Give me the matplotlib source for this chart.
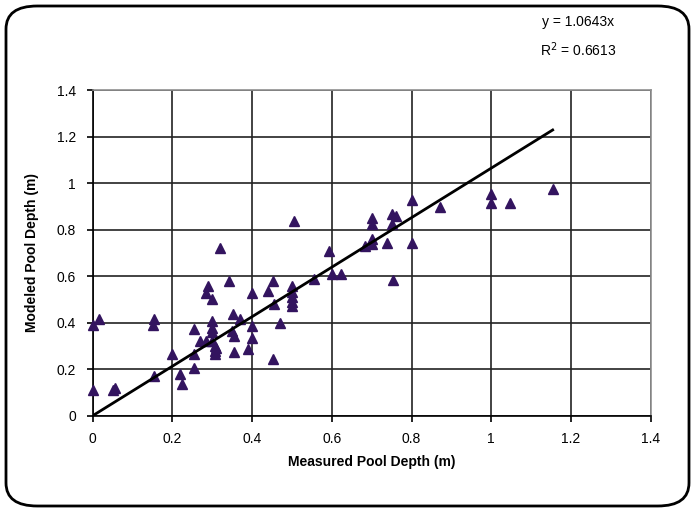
import matplotlib.pyplot as plt
import numpy as np
from matplotlib.patches import FancyBboxPatch

plt.rcParams['font.family'] = ['Liberation Sans', 'DejaVu Sans']

# measured vs modeled pool depth (m)
measured = [0.0, 0.0, 0.015, 0.05, 0.055, 0.15, 0.155, 0.153, 0.2, 0.22, 0.223,
            0.254, 0.254, 0.254, 0.27, 0.283, 0.29, 0.30, 0.30, 0.30, 0.30,
            0.30, 0.308, 0.308, 0.308, 0.31, 0.283, 0.32, 0.341, 0.352, 0.37,
            0.35, 0.354, 0.354, 0.4, 0.4, 0.39, 0.4, 0.44, 0.453, 0.454, 0.453,
            0.471, 0.504, 0.5, 0.5, 0.5, 0.5, 0.5, 0.555, 0.592, 0.60, 0.622,
            0.682, 0.70, 0.70, 0.70, 0.70, 0.739, 0.75, 0.75, 0.762, 0.754,
            0.80, 0.80, 0.872, 1.0, 1.0, 1.048, 1.154]
modeled = [0.11, 0.39, 0.415, 0.11, 0.12, 0.39, 0.415, 0.17, 0.265, 0.18, 0.136,
           0.372, 0.265, 0.207, 0.32, 0.529, 0.558, 0.50, 0.408, 0.379, 0.36,
           0.32, 0.30, 0.28, 0.266, 0.29, 0.32, 0.722, 0.579, 0.436, 0.415,
           0.365, 0.343, 0.272, 0.529, 0.386, 0.286, 0.336, 0.536, 0.579, 0.479, 0.243,
           0.40, 0.837, 0.556, 0.53, 0.51, 0.49, 0.47, 0.587, 0.708, 0.608, 0.608,
           0.73, 0.851, 0.823, 0.758, 0.738, 0.744, 0.867, 0.824, 0.858, 0.584,
           0.926, 0.744, 0.897, 0.953, 0.915, 0.915, 0.974]

slope = 1.0643
r2 = 0.6613
ticks = [0, 0.2, 0.4, 0.6, 0.8, 1, 1.2, 1.4]
tick_labels = ['0', '0.2', '0.4', '0.6', '0.8', '1', '1.2', '1.4']

fig = plt.figure(figsize=(6.95, 5.12), dpi=100)
ax = fig.add_axes([0.1334, 0.1881, 0.8029, 0.6361])

ax.plot(measured, modeled, linestyle='none', marker='^', markersize=7,
        color='#33145F', zorder=3, clip_on=False)
xfit = np.array([0, max(measured)])
ax.plot(xfit, slope * xfit, color='black', linewidth=2, zorder=4)

ax.set_xlim(0, 1.4)
ax.set_ylim(0, 1.4)
ax.set_xticks(ticks)
ax.set_xticklabels(tick_labels)
ax.set_yticks(ticks)
ax.set_yticklabels(tick_labels)
ax.tick_params(direction='out', length=4, width=1.2, labelsize=10, pad=8)
ax.grid(True, color='#222222', linewidth=1.2)
ax.set_axisbelow(True)
for s in ['left', 'bottom']:
    ax.spines[s].set_color('black')
    ax.spines[s].set_linewidth(1.2)
for s in ['top', 'right']:
    ax.spines[s].set_color('#909090')
    ax.spines[s].set_linewidth(1.2)

ax.set_xlabel('Measured Pool Depth (m)', fontsize=10, fontweight='bold', labelpad=6)
ax.set_ylabel('Modeled Pool Depth (m)', fontsize=10, fontweight='bold', labelpad=13)

fig.text(578 / 695, 1 - 22 / 512, 'y = {:.4f}x'.format(slope), fontsize=10,
         ha='center', va='center')
fig.text(578 / 695, 1 - 50 / 512, 'R$^2$ = {:.4f}'.format(r2), fontsize=10,
         ha='center', va='center')

box = FancyBboxPatch((6 / 695, 6 / 512), 683 / 695, 500 / 512,
                     boxstyle='round,pad=0,rounding_size=0.045',
                     transform=fig.transFigure, facecolor='none',
                     edgecolor='black', linewidth=2)
fig.patches.append(box)

fig.savefig('out.png', dpi=100)
